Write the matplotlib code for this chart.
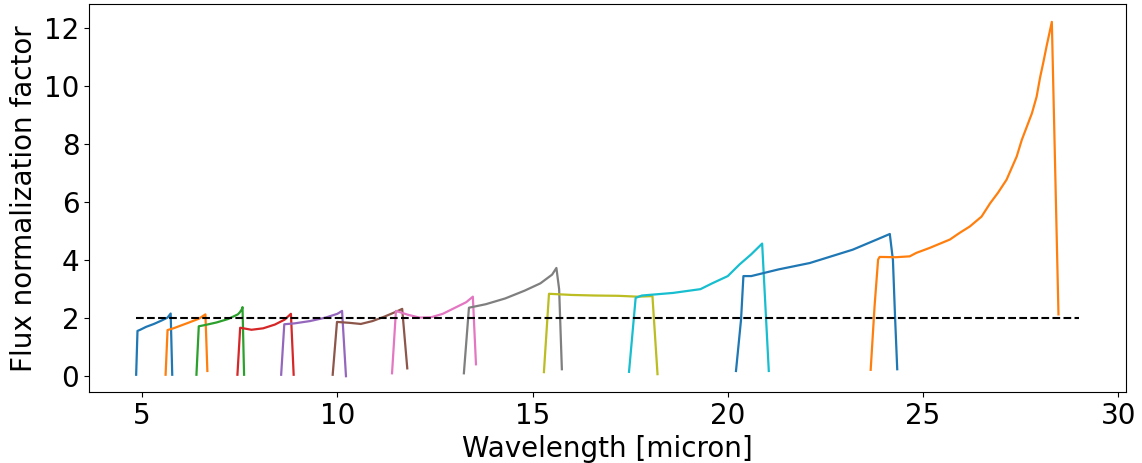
import matplotlib.pyplot as plt

# Normalization factor per MRS sub-band (wavelength in micron)
wave_1a = [4.846, 4.88, 4.95, 5.1, 5.3, 5.5, 5.65, 5.73, 5.77]
flux_1a = [0.05, 1.56, 1.6, 1.7, 1.8, 1.92, 2.02, 2.16, 0.05]

wave_1b = [5.6, 5.65, 5.8, 6.0, 6.2, 6.45, 6.62, 6.67]
flux_1b = [0.05, 1.59, 1.65, 1.75, 1.85, 1.98, 2.13, 0.18]

wave_1c = [6.39, 6.45, 6.6, 6.9, 7.2, 7.45, 7.5, 7.55, 7.57, 7.61]
flux_1c = [0.05, 1.72, 1.76, 1.85, 1.97, 2.13, 2.2, 2.3, 2.38, 0.05]

wave_2a = [7.44, 7.51, 7.8, 8.1, 8.4, 8.65, 8.81, 8.88]
flux_2a = [0.05, 1.67, 1.6, 1.65, 1.78, 1.95, 2.15, 0.05]

wave_2b = [8.56, 8.64, 8.9, 9.3, 9.7, 10.0, 10.12, 10.22]
flux_2b = [0.05, 1.79, 1.82, 1.9, 2.02, 2.15, 2.25, 0.0]

wave_2c = [9.88, 9.99, 10.3, 10.6, 10.9, 11.2, 11.5, 11.66, 11.79]
flux_2c = [0.05, 1.87, 1.84, 1.8, 1.9, 2.05, 2.22, 2.32, 0.27]

wave_3a = [11.4, 11.5, 11.8, 12.1, 12.4, 12.7, 13.0, 13.3, 13.47, 13.55]
flux_3a = [0.1, 2.25, 2.12, 2.02, 2.03, 2.15, 2.35, 2.55, 2.74, 0.41]

wave_3b = [13.24, 13.37, 13.8, 14.3, 14.8, 15.2, 15.5, 15.61, 15.68, 15.75]
flux_3b = [0.1, 2.36, 2.48, 2.68, 2.95, 3.2, 3.5, 3.73, 3.0, 0.24]

wave_3c = [15.29, 15.42, 16.0, 16.6, 17.2, 17.7, 18.07, 18.2]
flux_3c = [0.14, 2.84, 2.8, 2.78, 2.77, 2.74, 2.76, 0.07]

wave_4a = [17.47, 17.64, 17.8, 18.6, 19.3, 19.6, 20.0, 20.3, 20.6, 20.88, 21.05]
flux_4a = [0.15, 2.7, 2.78, 2.87, 3.0, 3.2, 3.45, 3.85, 4.2, 4.57, 0.18]

wave_4b = [20.21, 20.34, 20.4, 20.6, 21.3, 22.1, 23.2, 23.8, 24.15, 24.23, 24.28, 24.34]
flux_4b = [0.18, 1.96, 3.45, 3.45, 3.68, 3.9, 4.36, 4.7, 4.9, 4.0, 2.19, 0.24]

wave_4c = [23.66, 23.76, 23.85, 23.89, 24.3, 24.66, 24.83, 25.17, 25.69, 25.94,
           26.2, 26.5, 26.72, 26.92, 27.14, 27.4, 27.53, 27.66, 27.79, 27.91,
           28.0, 28.08, 28.17, 28.3, 28.47]
flux_4c = [0.22, 2.42, 4.02, 4.11, 4.1, 4.13, 4.25, 4.42, 4.71, 4.94,
           5.16, 5.5, 5.96, 6.32, 6.77, 7.57, 8.14, 8.6, 9.06, 9.63,
           10.3, 10.8, 11.4, 12.21, 2.13]

bands = [
    (wave_1a, flux_1a), (wave_1b, flux_1b), (wave_1c, flux_1c),
    (wave_2a, flux_2a), (wave_2b, flux_2b), (wave_2c, flux_2c),
    (wave_3a, flux_3a), (wave_3b, flux_3b), (wave_3c, flux_3c),
    (wave_4a, flux_4a), (wave_4b, flux_4b), (wave_4c, flux_4c),
]

# reference level drawn as dashed line
ref_level = 2
ref_range = [4.85, 29.0]

plt.rcParams["font.size"] = 20

fig = plt.figure(figsize=(11.42, 4.63), dpi=100)
ax = fig.add_axes([0.078, 0.153, 0.908, 0.838])

for wave, flux in bands:
    ax.plot(wave, flux, lw=1.6)

ax.plot(ref_range, [ref_level, ref_level], "k--", lw=1.5)

ax.set_xlim(3.64, 30.2)
ax.set_ylim(-0.55, 12.82)
ax.set_xticks([5, 10, 15, 20, 25, 30])
ax.set_yticks([0, 2, 4, 6, 8, 10, 12])
ax.set_xlabel("Wavelength [micron]")
ax.set_ylabel("Flux normalization factor")

fig.savefig("out.png", dpi=100)
